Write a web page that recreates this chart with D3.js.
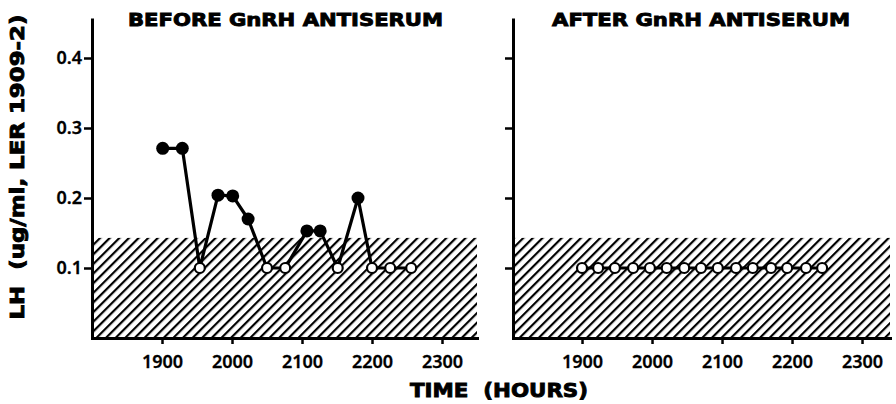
<!DOCTYPE html>
<html>
<head>
<meta charset="utf-8">
<script src="https://cdn.jsdelivr.net/npm/d3@7"></script>
<style>
  body { margin: 0; background: #fff; }
  text { fill: #000; }
  .tick text { font-family: "Noto Sans", "DejaVu Sans", sans-serif; font-weight: 600; font-size: 18px; stroke: #000; stroke-width: 0.3px; }
  .title { font-family: "DejaVu Sans", sans-serif; font-weight: bold; font-size: 18px; white-space: pre; stroke: #000; stroke-width: 0.9px; }
</style>
</head>
<body>
<div id="graph"></div>
<script>
// time of sample (decimal hours, 19.0 = 1900) and LH value
const beforeTimes = [19.01, 19.29, 19.54, 19.80, 20.01, 20.23, 20.50, 20.76, 21.07, 21.26, 21.51, 21.80, 22.00, 22.26, 22.56];
const beforeLH    = [0.271, 0.271, 0.10, 0.204, 0.203, 0.170, 0.10, 0.10, 0.153, 0.153, 0.10, 0.200, 0.10, 0.10, 0.10];
const afterTimes  = [19.00, 19.23, 19.47, 19.73, 19.97, 20.21, 20.46, 20.70, 20.94, 21.20, 21.44, 21.70, 21.93, 22.20, 22.43];
const afterLH     = [0.10, 0.10, 0.10, 0.10, 0.10, 0.10, 0.10, 0.10, 0.10, 0.10, 0.10, 0.10, 0.10, 0.10, 0.10];
const hourTicks = [19, 20, 21, 22, 23];
const lhTicks = [0.1, 0.2, 0.3, 0.4];
const detectionLimit = 0.143;

const w = 896, h = 404;

const svg = d3.select("#graph")
    .append("svg")
    .attr("width", w)
    .attr("height", h);

// diagonal hatching for the undetectable zone
svg.append("defs").append("pattern")
    .attr("id", "hatch")
    .attr("patternUnits", "userSpaceOnUse")
    .attr("width", 6.8)
    .attr("height", 10)
    .attr("patternTransform", "rotate(45)")
    .append("line")
    .attr("x1", 1).attr("y1", 0)
    .attr("x2", 1).attr("y2", 10)
    .attr("stroke", "#000")
    .attr("stroke-width", 2.4);

const y = d3.scaleLinear()
    .domain([0, 0.455])
    .range([338, 19.5]);

const panels = [
    { title: "BEFORE GnRH ANTISERUM", titleX: 285.5, titleLen: 315, times: beforeTimes, lh: beforeLH, left: 92, right: 477, start: 18.0, labels: true },
    { title: "AFTER GnRH ANTISERUM", titleX: 701, titleLen: 298, times: afterTimes, lh: afterLH, left: 513, right: 890, start: 18.014, labels: false }
];

panels.forEach(p => {
    const x = d3.scaleLinear()
        .domain([p.start, p.start + (p.right - p.left) / 70])
        .range([p.left, p.right]);

    const g = svg.append("g");

    // hatched area
    g.append("rect")
        .attr("x", p.left)
        .attr("y", y(detectionLimit))
        .attr("width", p.right - p.left)
        .attr("height", y(0) - y(detectionLimit))
        .attr("fill", "url(#hatch)");

    const xAxis = d3.axisBottom(x)
        .tickValues(hourTicks)
        .tickFormat(d => d * 100)
        .tickSize(6)
        .tickSizeOuter(0)
        .tickPadding(11);

    const gx = g.append("g")
        .attr("transform", "translate(0," + y(0) + ")")
        .call(xAxis);

    const yAxis = d3.axisLeft(y)
        .tickValues(lhTicks)
        .tickFormat(p.labels ? d3.format(".1f") : () => "")
        .tickSize(8)
        .tickSizeOuter(0)
        .tickPadding(2);

    const gy = g.append("g")
        .attr("transform", "translate(" + p.left + ",0)")
        .call(yAxis);

    [gx, gy].forEach(a => {
        a.select(".domain").attr("stroke", "#000").attr("stroke-width", 3).attr("stroke-linecap", "square");
        a.selectAll(".tick line").attr("stroke", "#000").attr("stroke-width", 2.5);
    });

    const line = d3.line()
        .x((d, i) => x(p.times[i]))
        .y(d => y(d));

    g.append("path")
        .datum(p.lh)
        .attr("d", line)
        .attr("fill", "none")
        .attr("stroke", "#000")
        .attr("stroke-width", 3.2)
        .attr("stroke-linejoin", "round");

    g.selectAll("circle")
        .data(p.lh)
        .enter()
        .append("circle")
        .attr("cx", (d, i) => x(p.times[i]))
        .attr("cy", d => y(d))
        .attr("r", d => d > detectionLimit ? 6.5 : 5)
        .attr("fill", d => d > detectionLimit ? "#000" : "#fff")
        .attr("stroke", "#000")
        .attr("stroke-width", d => d > detectionLimit ? 0 : 2.2);

    g.append("text")
        .attr("class", "title")
        .attr("x", p.titleX)
        .attr("y", 26)
        .attr("text-anchor", "middle")
        .attr("textLength", p.titleLen)
        .attr("lengthAdjust", "spacingAndGlyphs")
        .text(p.title);
});

svg.append("text")
    .attr("class", "title")
    .attr("x", 499)
    .attr("y", 397)
    .attr("text-anchor", "middle")
    .attr("textLength", 178)
    .attr("lengthAdjust", "spacingAndGlyphs")
    .style("font-size", "20px")
    .text("TIME  (HOURS)");

svg.append("text")
    .attr("class", "title")
    .attr("transform", "translate(24,167) rotate(-90)")
    .attr("text-anchor", "middle")
    .attr("textLength", 305)
    .attr("lengthAdjust", "spacingAndGlyphs")
    .style("font-size", "20px")
    .text("LH  (ug/ml, LER 1909-2)");
</script>
</body>
</html>
